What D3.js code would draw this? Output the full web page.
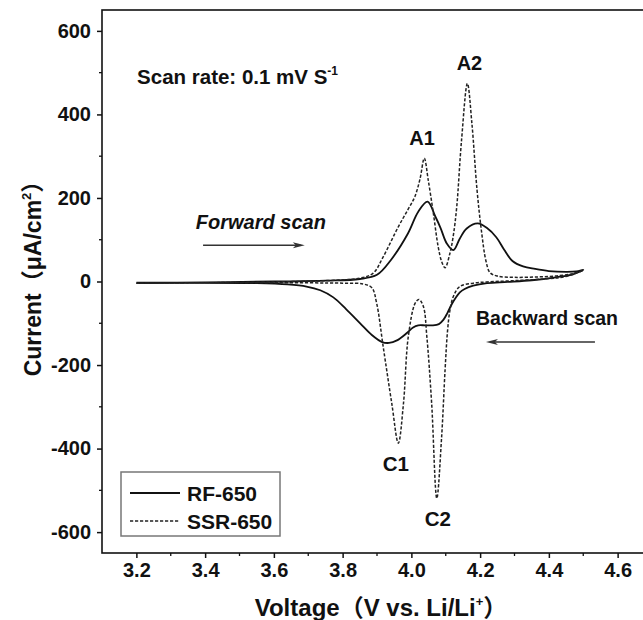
<!DOCTYPE html>
<html lang="en">
<head>
<meta charset="utf-8">
<title>Cyclic voltammetry RF-650 vs SSR-650</title>
<script src="https://cdn.jsdelivr.net/npm/d3@7"></script>
<style>
  body { margin: 0; background: #fff; }
  text { font-family: "Liberation Sans", Arial, "Noto Sans CJK SC", sans-serif; font-weight: bold; fill: #111; }
</style>
</head>
<body>
<script>

// Tick values
var xTicks = [3.2, 3.4, 3.6, 3.8, 4.0, 4.2, 4.4, 4.6];
var xMinor = [3.3, 3.5, 3.7, 3.9, 4.1, 4.3, 4.5];
var yTicks = [-600, -400, -200, 0, 200, 400, 600];
var yMinor = [-500, -300, -100, 100, 300, 500];

// Series names
var seriesNames = ["RF-650", "SSR-650"];

// RF-650, [voltage, current]
var rfForward = [[3.20,-3],[3.40,-2],[3.60,0],[3.75,2],[3.85,6],[3.90,16],[3.94,51],[3.99,115],[4.02,167],
  [4.047,191],[4.07,155],[4.085,128],[4.103,91],[4.122,75],[4.141,103],[4.161,127],[4.193,139],[4.22,128],
  [4.247,106],[4.27,76],[4.294,49],[4.325,36],[4.36,30],[4.40,25],[4.45,23],[4.48,24],[4.50,28]];
var rfBackward = [[4.50,28],[4.47,17],[4.42,10],[4.35,3],[4.28,-1],[4.22,-4],[4.18,-10],[4.155,-18],[4.141,-26],
  [4.128,-40],[4.117,-55],[4.105,-75],[4.093,-92],[4.08,-102],[4.06,-105],[4.04,-105],[4.02,-105],[4.005,-110],
  [3.986,-124],[3.958,-141],[3.935,-147],[3.915,-145],[3.885,-128],[3.851,-100],[3.81,-66],[3.773,-38],
  [3.735,-21],[3.695,-12],[3.64,-7],[3.55,-4],[3.40,-3],[3.20,-4]];

// SSR-650
var ssrForward = [[3.20,-4],[3.40,-3],[3.60,-1],[3.75,2],[3.85,8],[3.889,20],[3.918,59],[3.962,131],[3.99,172],
  [4.010,203],[4.025,245],[4.0376,295],[4.049,243],[4.064,163],[4.078,83],[4.088,48],[4.098,33],[4.112,67],
  [4.122,110],[4.132,179],[4.146,339],[4.163,474],[4.176,379],[4.191,219],[4.204,120],[4.217,49],[4.229,21],
  [4.25,13],[4.30,10],[4.37,11],[4.43,14],[4.47,19],[4.50,27]];
var ssrBackward = [[4.50,27],[4.45,12],[4.40,7],[4.30,2],[4.22,-1],[4.18,-4],[4.141,-12],[4.122,-36],[4.112,-70],
  [4.105,-120],[4.098,-212],[4.088,-372],[4.074,-519],[4.059,-292],[4.045,-132],[4.035,-60],[4.022,-43],
  [4.011,-52],[3.991,-132],[3.977,-292],[3.962,-387],[3.943,-292],[3.918,-156],[3.899,-52],[3.885,-15],
  [3.86,-6],[3.80,-4],[3.60,-3],[3.40,-3],[3.20,-4]];

var w = 643, h = 620;

var x = d3.scaleLinear().domain([3.1, 4.7]).range([102, 652]);
var y = d3.scaleLinear().domain([-650, 650]).range([553, 10]);

var svg = d3.select("body").append("svg")
  .attr("width", w)
  .attr("height", h);

//Axes
var yAxis = d3.axisLeft(y).tickValues(yTicks).tickSize(5).tickSizeOuter(0).tickPadding(6)
  .tickFormat(function(d) { return String(d); });
var xAxis = d3.axisBottom(x).tickValues(xTicks).tickSize(5).tickSizeOuter(0).tickPadding(5)
  .tickFormat(d3.format(".1f"));

var gy = svg.append("g").attr("transform", "translate(" + x(3.1) + ",0)").call(yAxis);
var gx = svg.append("g").attr("transform", "translate(0," + y(-650) + ")").call(xAxis);

[gx, gy].forEach(function(g) {
  g.select(".domain").remove();
  g.selectAll(".tick line").attr("stroke", "#111").attr("stroke-width", 1.5);
  g.selectAll(".tick text")
    .attr("font-size", 20)
    .attr("font-family", null)
    .attr("fill", "#111");
});

//Minor ticks
svg.selectAll(".ymin").data(yMinor).enter().append("line")
  .attr("x1", x(3.1) - 3).attr("x2", x(3.1))
  .attr("y1", function(d) { return y(d); }).attr("y2", function(d) { return y(d); })
  .attr("stroke", "#111").attr("stroke-width", 1.3);
svg.selectAll(".xmin").data(xMinor).enter().append("line")
  .attr("y1", y(-650)).attr("y2", y(-650) + 3)
  .attr("x1", function(d) { return x(d); }).attr("x2", function(d) { return x(d); })
  .attr("stroke", "#111").attr("stroke-width", 1.3);

//Frame
svg.append("rect")
  .attr("x", x(3.1)).attr("y", y(650))
  .attr("width", x(4.7) - x(3.1)).attr("height", y(-650) - y(650))
  .attr("fill", "none").attr("stroke", "#111").attr("stroke-width", 1.6);

//Curves
var line = d3.line()
  .x(function(d) { return x(d[0]); })
  .y(function(d) { return y(d[1]); })
  .curve(d3.curveCatmullRom.alpha(0.5));

var loops = [rfForward.concat(rfBackward.slice(1)), ssrForward.concat(ssrBackward.slice(1))];
var dashes = [null, "3.2,1.8"];

svg.selectAll(".cv").data(loops).enter().append("path")
  .attr("class", "cv")
  .attr("d", line)
  .attr("fill", "none")
  .attr("stroke", function(d, i) { return i == 0 ? "#111" : "#222"; })
  .attr("stroke-width", function(d, i) { return i == 0 ? 1.8 : 1.5; })
  .attr("stroke-dasharray", function(d, i) { return dashes[i]; });

//Text helper
function label(px, py, size, anchor) {
  return svg.append("text")
    .attr("x", px).attr("y", py)
    .attr("text-anchor", anchor)
    .attr("font-size", size);
}

var t = label(x(3.202), y(473), 20.5, "start");
t.append("tspan").text("Scan rate: 0.1 mV S");
t.append("tspan").attr("font-size", 12).attr("dy", -9).text("-1");

label(x(4.031), y(327), 20, "middle").text("A1");
label(x(4.169), y(506), 20, "middle").text("A2");
label(x(3.955), y(-453), 20.5, "middle").text("C1");
label(x(4.077), y(-585), 20.5, "middle").text("C2");

label(x(3.373), y(126), 20, "start").attr("font-style", "italic").text("Forward scan");
label(x(4.188), y(-104), 19.5, "start").text("Backward scan");

//Arrows
function arrow(v0, v1, c) {
  var x0 = x(v0), x1 = x(v1), yy = y(c), dir = x1 > x0 ? 1 : -1;
  svg.append("line").attr("x1", x0).attr("x2", x1 - dir * 4).attr("y1", yy).attr("y2", yy)
    .attr("stroke", "#333").attr("stroke-width", 1.5);
  svg.append("path")
    .attr("d", "M" + x1 + "," + yy + " L" + (x1 - dir * 12) + "," + (yy - 3) +
         " L" + (x1 - dir * 9) + "," + yy + " L" + (x1 - dir * 12) + "," + (yy + 3) + " Z")
    .attr("fill", "#333");
}
arrow(3.394, 3.69, 87);
arrow(4.534, 4.217, -145);

//Legend
var lg = svg.append("g");
lg.append("rect").attr("x", 121).attr("y", 472).attr("width", 159).attr("height", 64)
  .attr("fill", "#fff").attr("stroke", "#777").attr("stroke-width", 1.5);
seriesNames.forEach(function(name, i) {
  var ly = 493 + i * 28;
  lg.append("line").attr("x1", 130).attr("x2", 180).attr("y1", ly).attr("y2", ly)
    .attr("stroke", i == 0 ? "#111" : "#222").attr("stroke-width", i == 0 ? 1.8 : 1.5)
    .attr("stroke-dasharray", dashes[i]);
  svg.append("text").attr("x", 187).attr("y", ly + 7.5).attr("font-size", 21).text(name);
});

//Axis titles
var xt = label(381, 616, 24, "middle");
xt.append("tspan").text("Voltage（V vs. Li/Li");
xt.append("tspan").attr("font-size", 13).attr("dy", -10).text("+");
xt.append("tspan").attr("dy", 10).text("）");

var yt = svg.append("text")
  .attr("transform", "translate(41,273) rotate(-90)")
  .attr("text-anchor", "middle")
  .attr("font-size", 23);
yt.append("tspan").text("Current（μA/cm");
yt.append("tspan").attr("font-size", 13).attr("dy", -10).text("2");
yt.append("tspan").attr("dy", 10).text("）");

</script>
</body>
</html>
